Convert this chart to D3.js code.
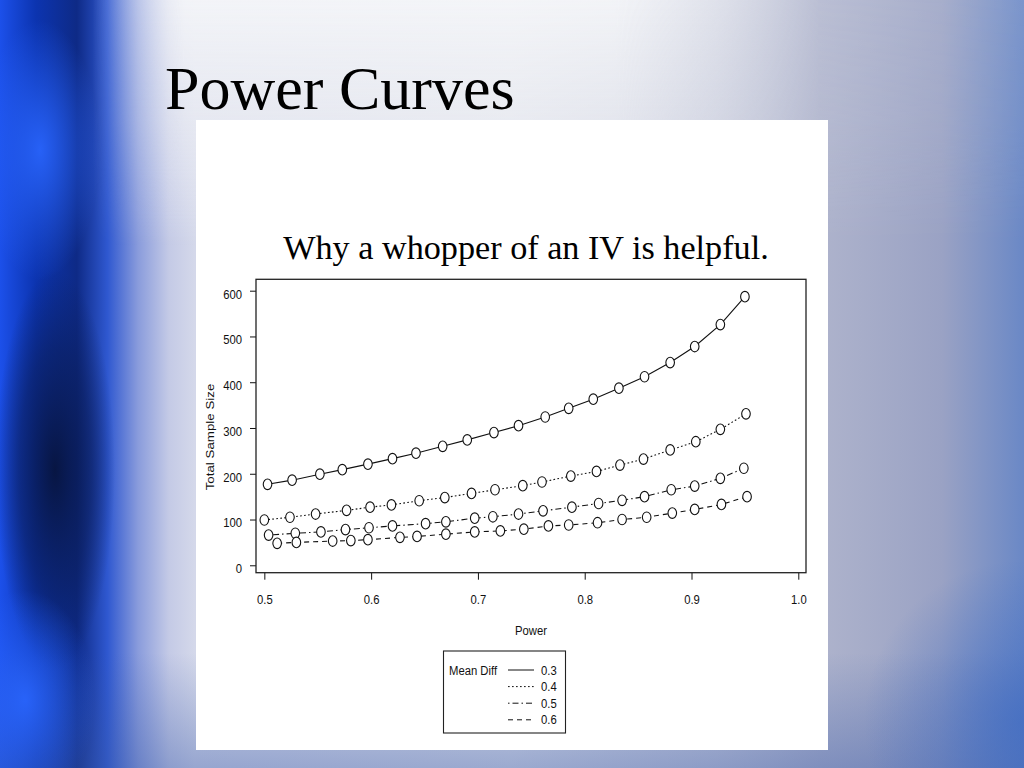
<!DOCTYPE html>
<html>
<head>
<meta charset="utf-8">
<script src="https://cdn.jsdelivr.net/npm/d3@7"></script>
<style>
  html, body { margin: 0; padding: 0; overflow: hidden; }
  svg { display: block; }
  .r { font-family: "Liberation Sans", Arial, sans-serif; font-size: 11.3px; fill: #111;
       transform-box: fill-box; transform-origin: center; transform: scaleY(1.18); }
</style>
</head>
<body>
<script>
// values (power, total N) for each mean difference
var meanDiffs = ["0.3", "0.4", "0.5", "0.6"];

var power03 = [0.503,0.526,0.552,0.573,0.597,0.620,0.642,0.667,0.690,0.715,0.738,0.763,0.785,0.808,0.832,0.856,0.880,0.903,0.927,0.950];
var size03  = [177,186,199,209,221,233,245,260,274,290,305,324,343,363,387,412,443,478,526,587];

var power04 = [0.500,0.524,0.548,0.577,0.599,0.619,0.645,0.669,0.694,0.716,0.742,0.760,0.787,0.811,0.833,0.855,0.880,0.904,0.927,0.951];
var size04  = [99,105,112,120,127,132,141,148,157,165,174,182,195,205,219,232,252,270,297,331];

var power05 = [0.504,0.529,0.553,0.576,0.598,0.620,0.651,0.670,0.697,0.714,0.738,0.761,0.788,0.813,0.835,0.856,0.881,0.903,0.927,0.949];
var size05  = [66,70,73,78,82,86,91,95,103,106,112,119,127,135,142,150,165,173,190,212];

var power06 = [0.512,0.530,0.564,0.581,0.597,0.627,0.643,0.670,0.697,0.721,0.743,0.766,0.785,0.812,0.835,0.858,0.882,0.903,0.928,0.952];
var size06  = [48,50,53,54,56,61,63,68,73,75,79,86,88,93,100,105,114,122,133,150];

var xTicks = [0.5, 0.6, 0.7, 0.8, 0.9, 1.0];
var yTicks = [0, 100, 200, 300, 400, 500, 600];

var svg = d3.select("body").append("svg")
            .attr("width", 1024)
            .attr("height", 768);

// ---- slide background ----
var defs = svg.append("defs");

function linGrad(id, x2, y2, stops){
    var g = defs.append("linearGradient").attr("id", id)
                .attr("x1", 0).attr("y1", 0).attr("x2", x2).attr("y2", y2);
    stops.forEach(function(s){
        g.append("stop").attr("offset", s[0]).attr("stop-color", s[1])
         .attr("stop-opacity", s[2] == undefined ? 1 : s[2]);
    });
}
function radGrad(id, stops){
    var g = defs.append("radialGradient").attr("id", id);
    stops.forEach(function(s){
        g.append("stop").attr("offset", s[0]).attr("stop-color", s[1]).attr("stop-opacity", s[2]);
    });
}

linGrad("bgH", 1, 0, [
    [0, "#1c50ea"], [0.035, "#0c34b0"], [0.075, "#0e2a86"], [0.105, "#2f58d0"],
    [0.135, "#8a9cdc"], [0.165, "#c4cae6"], [0.19, "#d4d8ea"], [0.5, "#dcdfea"],
    [0.7, "#c4c8da"], [0.8, "#aeb3cc"], [0.92, "#9aa2c4"], [1, "#6a88c6"]
]);
linGrad("bgTop", 0, 1, [
    [0, "#f6f7f9", 0.9], [0.16, "#f2f3f6", 0.6], [0.32, "#ffffff", 0]
]);
linGrad("fadeX", 1, 0, [
    [0, "#000"], [0.09, "#000"], [0.18, "#fff"], [0.6, "#fff"], [0.8, "#333"], [1, "#222"]
]);
linGrad("bgBottom", 0, 1, [
    [0, "#3a5aa8", 0], [0.85, "#3a5aa8", 0], [1, "#3a5aa8", 0.4]
]);
defs.append("mask").attr("id", "topMask")
    .append("rect").attr("width", 1024).attr("height", 768).attr("fill", "url(#fadeX)");
radGrad("navy", [[0, "#07143e", 0.95], [0.6, "#0a1d5a", 0.6], [1, "#0a1d5a", 0]]);
radGrad("bright", [[0, "#2a66ff", 0.9], [1, "#2a66ff", 0]]);
radGrad("rightBlue", [[0, "#3f6cc4", 0.7], [1, "#3f6cc4", 0]]);

svg.append("rect").attr("width", 1024).attr("height", 768).attr("fill", "url(#bgH)");
svg.append("rect").attr("width", 1024).attr("height", 768)
   .attr("fill", "url(#bgTop)").attr("mask", "url(#topMask)");
svg.append("rect").attr("width", 1024).attr("height", 768).attr("fill", "url(#bgBottom)");
svg.append("ellipse").attr("cx", 55).attr("cy", 470).attr("rx", 60).attr("ry", 200).attr("fill", "url(#navy)");
svg.append("ellipse").attr("cx", 25).attr("cy", 700).attr("rx", 70).attr("ry", 110).attr("fill", "url(#bright)");
svg.append("ellipse").attr("cx", 40).attr("cy", 150).attr("rx", 60).attr("ry", 130).attr("fill", "url(#bright)");
svg.append("ellipse").attr("cx", 1024).attr("cy", 720).attr("rx", 160).attr("ry", 160).attr("fill", "url(#rightBlue)");

// slide title
svg.append("text")
   .attr("x", 165).attr("y", 109)
   .style("font-family", "'Liberation Serif', 'Times New Roman', serif")
   .style("font-size", "62px")
   .style("fill", "#000")
   .text("Power Curves");

// white plot picture
svg.append("rect")
   .attr("x", 196).attr("y", 120)
   .attr("width", 632).attr("height", 630)
   .attr("fill", "#ffffff");

svg.append("text")
   .attr("x", 526).attr("y", 259)
   .attr("text-anchor", "middle")
   .style("font-family", "'Liberation Serif', 'Times New Roman', serif")
   .style("font-size", "34.2px")
   .style("fill", "#000")
   .text("Why a whopper of an IV is helpful.");

// ---- plot ----
var x = d3.scaleLinear().domain([0.4922, 1.0072]).range([256, 806]);
var y = d3.scaleLinear().domain([-16.2, 624.9]).range([572.7, 279.3]);

var series = [
    {label: meanDiffs[0], power: power03, size: size03, dash: null},
    {label: meanDiffs[1], power: power04, size: size04, dash: "1.7,2.3"},
    {label: meanDiffs[2], power: power05, size: size05, dash: "1.5,3,6,3"},
    {label: meanDiffs[3], power: power06, size: size06, dash: "5,4"}
];

var yAxis = svg.append("g")
    .attr("transform", "translate(256,0)")
    .call(d3.axisLeft(y).tickValues(yTicks).tickSize(6).tickSizeOuter(0).tickPadding(8));
yAxis.select(".domain").remove();
yAxis.selectAll("line").attr("stroke", "#111");
yAxis.selectAll("text").attr("class", "r").attr("dy", "0.6em").attr("font-size", null).attr("font-family", null);

var xAxis = svg.append("g")
    .attr("transform", "translate(0,572.7)")
    .call(d3.axisBottom(x).tickValues(xTicks).tickFormat(d3.format(".1f"))
              .tickSize(7).tickSizeOuter(0).tickPadding(16));
xAxis.select(".domain").remove();
xAxis.selectAll("line").attr("stroke", "#111");
xAxis.selectAll("text").attr("class", "r").attr("font-size", null).attr("font-family", null);

// plot box
svg.append("rect")
   .attr("x", x.range()[0]).attr("y", y.range()[1])
   .attr("width", x.range()[1] - x.range()[0])
   .attr("height", y.range()[0] - y.range()[1])
   .attr("fill", "none").attr("stroke", "#222").attr("stroke-width", 1.3);

var line = d3.line()
    .x(function(d){ return x(d[0]); })
    .y(function(d){ return y(d[1]); });

series.forEach(function(s){
    var pts = s.power.map(function(p, i){ return [p, s.size[i]]; });
    svg.append("path")
       .datum(pts)
       .attr("d", line)
       .attr("fill", "none")
       .attr("stroke", "#111")
       .attr("stroke-width", 1.1)
       .attr("stroke-dasharray", s.dash);
    svg.append("g").selectAll("ellipse")
       .data(pts)
       .enter()
       .append("ellipse")
       .attr("cx", function(d){ return x(d[0]); })
       .attr("cy", function(d){ return y(d[1]); })
       .attr("rx", 4.3)
       .attr("ry", 5.3)
       .attr("fill", "#fff")
       .attr("stroke", "#111")
       .attr("stroke-width", 1.1);
});

// axis titles
svg.append("text")
   .attr("class", "r")
   .attr("x", 531).attr("y", 634)
   .attr("text-anchor", "middle")
   .text("Power");

svg.append("text")
   .attr("transform", "translate(214,437) scale(1,1.18) rotate(-90)")
   .attr("text-anchor", "middle")
   .style("font-family", "'Liberation Sans', Arial, sans-serif")
   .style("font-size", "11.3px")
   .style("fill", "#111")
   .text("Total Sample Size");

// ---- legend ----
var legend = svg.append("g");
legend.append("rect")
   .attr("x", 443.5).attr("y", 651)
   .attr("width", 122).attr("height", 82)
   .attr("fill", "#fff").attr("stroke", "#222").attr("stroke-width", 1.1);

legend.append("text")
   .attr("class", "r")
   .attr("x", 449).attr("y", 674)
   .text("Mean Diff");

series.forEach(function(s, i){
    var ly = 670 + i * 16.6;
    legend.append("line")
       .attr("x1", 508).attr("x2", 534)
       .attr("y1", ly).attr("y2", ly)
       .attr("stroke", "#111").attr("stroke-width", 1)
       .attr("stroke-dasharray", s.dash);
    legend.append("text")
       .attr("class", "r")
       .attr("x", 541).attr("y", ly + 4)
       .text(s.label);
});
</script>
</body>
</html>
